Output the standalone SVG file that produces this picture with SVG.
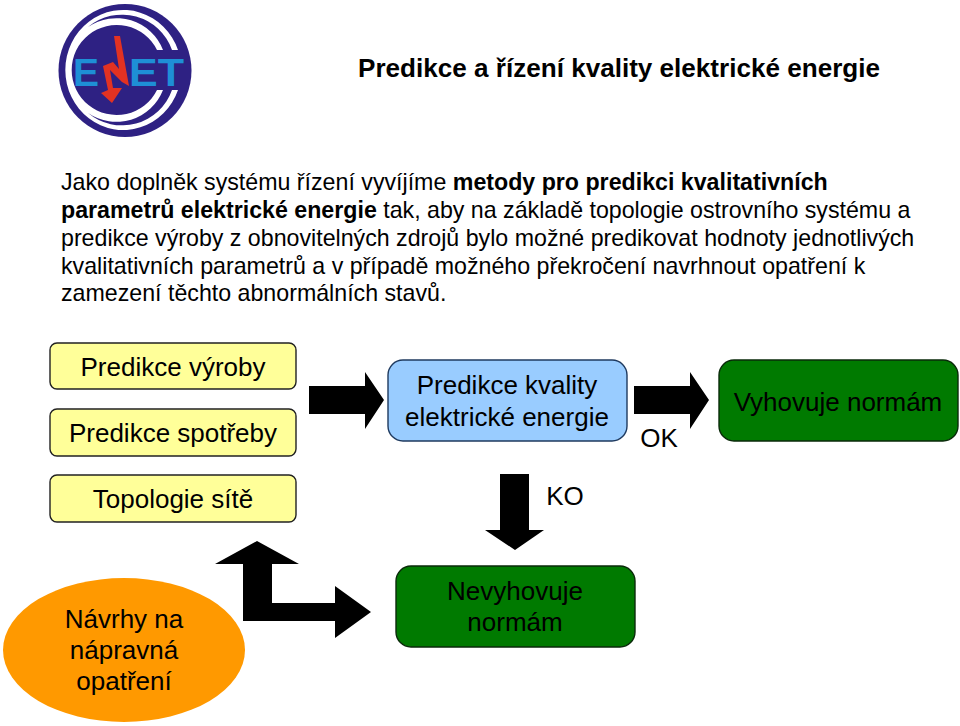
<svg xmlns="http://www.w3.org/2000/svg" width="960" height="726" viewBox="0 0 960 726">
<style>
text{font-family:"Liberation Sans",Arial,sans-serif;fill:#000}
.p{font-size:23.2px}
.n{font-size:26px;text-anchor:middle}
.y{fill:#ffff99;stroke:#222;stroke-width:1.4}
.g{fill:#007a00;stroke:#0a2a0a;stroke-width:1.4}
.ar{fill:#000}
.l{font-size:39px;font-weight:700;fill:#1e8fd6}
</style>
<rect width="960" height="726" fill="#fff"/>
<g id="logo">
<circle cx="125" cy="70.500" r="66.500" fill="#2e2183"/>
<path d="M178 50A58 60 0 1 0 178 90L157 90A45 45 0 1 1 157 50Z" fill="#fff"/>
<path d="M88 27A53 53 0 0 1 172 50L163 50A50 50 0 0 0 88 27Z" fill="#2e2183"/>
<path d="M88 113A53 53 0 0 0 172 90L163 90A50 50 0 0 1 88 113Z" fill="#2e2183"/>
<text class="l" x="73" y="86">E</text>
<text class="l" x="129" y="86" textLength="55" lengthAdjust="spacingAndGlyphs">ET</text>
<path d="M114 36L120 36L129 86L122 82L110 70L113 88L122 88L112 103L101 93L108 90L103 66L113 62L119 69Z" fill="#e23222"/>
</g>
<g id="title"><text x="358" y="77" font-size="25" font-weight="700" textLength="522" lengthAdjust="spacingAndGlyphs">Predikce a řízení kvality elektrické energie</text></g>
<g id="paragraph">
<text class="p" x="61" y="190">Jako doplněk systému řízení vyvíjíme <tspan font-weight="700">metody pro predikci kvalitativních</tspan></text>
<text class="p" x="61" y="218"><tspan font-weight="700">parametrů elektrické energie</tspan> tak, aby na základě topologie ostrovního systému a</text>
<text class="p" x="61" y="246">predikce výroby z obnovitelných zdrojů bylo možné predikovat hodnoty jednotlivých</text>
<text class="p" x="61" y="273.500">kvalitativních parametrů a v případě možného překročení navrhnout opatření k</text>
<text class="p" x="61" y="301">zamezení těchto abnormálních stavů.</text>
</g>
<g id="connectors">
<path class="ar" d="M309 386H365V372L384 400L365 429V414H309Z"/>
<path class="ar" d="M634 386H690V372L709 400L690 429V414H634Z"/>
<path class="ar" d="M500 474H529V530H544L515 550L485 530H500Z"/>
<path class="ar" d="M257 541L299 564H272V603H335V586L371 612L335 638V621H243V564H215Z"/>
</g>
<g id="n1"><rect class="y" x="50" y="343" width="246" height="46" rx="7"/><text class="n" x="173" y="375.500">Predikce výroby</text></g>
<g id="n2"><rect class="y" x="50" y="409" width="246" height="47" rx="7"/><text class="n" x="173" y="442">Predikce spotřeby</text></g>
<g id="n3"><rect class="y" x="50" y="475" width="246" height="47" rx="7"/><text class="n" x="173" y="508">Topologie sítě</text></g>
<g id="n4"><rect x="388" y="360" width="239" height="81" rx="15" fill="#99ccff" stroke="#1f3a5f" stroke-width="1.4"/><text class="n" x="507" y="394">Predikce kvality</text><text class="n" x="507" y="426">elektrické energie</text></g>
<g id="n5"><rect class="g" x="719" y="360" width="239" height="81" rx="15"/><text class="n" x="838" y="411">Vyhovuje normám</text></g>
<g id="n6"><rect class="g" x="396" y="566" width="239" height="81" rx="15"/><text class="n" x="515" y="600">Nevyhovuje</text><text class="n" x="515" y="631">normám</text></g>
<g id="n7"><ellipse cx="124" cy="650" rx="121" ry="72" fill="#ff9900"/><text class="n" x="124" y="628">Návrhy na</text><text class="n" x="124" y="659">nápravná</text><text class="n" x="124" y="690">opatření</text></g>
<g id="labels"><text class="n" x="659" y="447">OK</text><text class="n" x="565" y="505">KO</text></g>
</svg>
